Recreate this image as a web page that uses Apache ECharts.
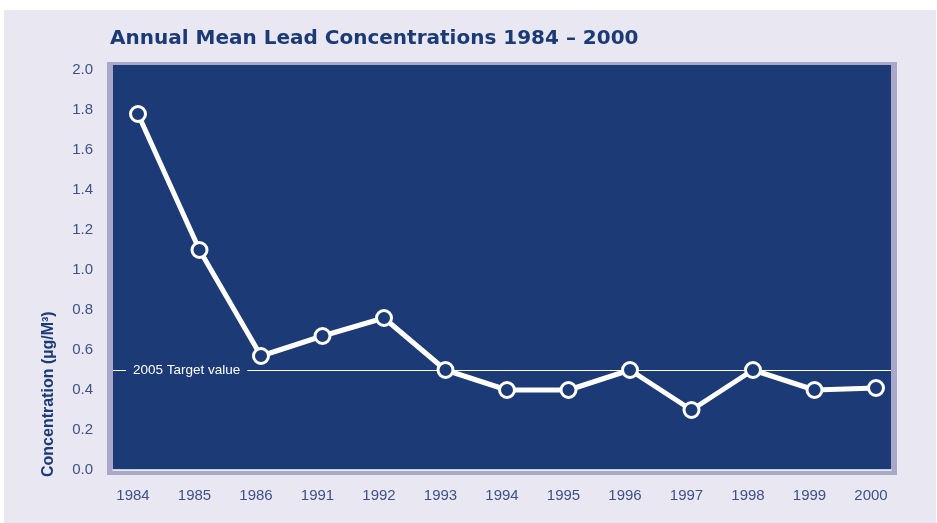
<!DOCTYPE html>
<html>
<head>
<meta charset="utf-8">
<script src="https://cdn.jsdelivr.net/npm/echarts@6/dist/echarts.min.js"></script>
<style>
html,body{margin:0;padding:0;background:#ffffff;}
#c{width:937px;height:523px;}
</style>
</head>
<body>
<div id="c"></div>
<script>
var categories = ['1984','1985','1986','1991','1992','1993','1994','1995','1996','1997','1998','1999','2000'];
var concentration = [1.78, 1.10, 0.57, 0.67, 0.76, 0.50, 0.40, 0.40, 0.50, 0.30, 0.50, 0.40, 0.41];
var yTicks = [0, 0.2, 0.4, 0.6, 0.8, 1.0, 1.2, 1.4, 1.6, 1.8, 2.0];
var targetValue = 0.5;
var targetLabel = '2005 Target value';
var titleText = 'Annual Mean Lead Concentrations 1984 \u2013 2000';
var yTitle = 'Concentration (\u00b5g/M\u00b3)';

var DARK = '#1b3a76';
var LABEL = '#3f5089';
var FONT = '"Liberation Sans", Arial, Helvetica, sans-serif';

var chart = echarts.init(document.getElementById('c'), null, {renderer: 'canvas'});
chart.setOption({
  backgroundColor: '#ffffff',
  animation: false,
  title: {
    text: titleText,
    left: 105, top: 24,
    textStyle: {color: DARK, fontSize: 20, fontWeight: 'bold', fontFamily: '"DejaVu Sans", sans-serif'}
  },
  graphic: [
    {type: 'rect', z: -10, silent: true, shape: {x: 4, y: 10, width: 932, height: 513}, style: {fill: '#e9e8f2'}},
    {type: 'rect', z: -9, silent: true, shape: {x: 107, y: 62, width: 790, height: 413}, style: {fill: '#a9a8c8'}},
    {type: 'rect', z: -8, silent: true, shape: {x: 113, y: 65, width: 778, height: 405}, style: {fill: DARK}},
    {type: 'text', z: 10, silent: true, x: 49, y: 477, rotation: Math.PI / 2,
      style: {text: yTitle, fill: DARK, font: 'bold 16px ' + FONT, textAlign: 'left', textVerticalAlign: 'middle'}}
  ],
  grid: [
    {left: 138, top: 70, width: 738, height: 400, show: false},
    {left: 113, top: 70, width: 778, height: 400, show: false}
  ],
  xAxis: [
    {
      type: 'category', gridIndex: 0, data: categories, boundaryGap: false,
      axisLine: {show: false}, axisTick: {show: false}, splitLine: {show: false},
      axisLabel: {color: LABEL, fontSize: 15, fontFamily: FONT, margin: 18, interval: 0, padding: [0, 10, 0, 0]}
    },
    {
      type: 'value', gridIndex: 1, min: 0, max: 1,
      axisLine: {show: true, lineStyle: {color: '#ffffff', width: 1.5}},
      axisTick: {show: false}, axisLabel: {show: false}, splitLine: {show: false}
    }
  ],
  yAxis: [
    {type: 'value', gridIndex: 0, min: 0, max: 2, interval: 0.2, show: false},
    {
      type: 'value', gridIndex: 1, min: yTicks[0], max: yTicks[yTicks.length - 1], interval: 0.2,
      axisLine: {show: false}, axisTick: {show: false}, splitLine: {show: false},
      axisLabel: {color: LABEL, fontSize: 15, fontFamily: FONT, margin: 20,
        formatter: function (v) { return v.toFixed(1); }}
    }
  ],
  series: [
    {
      type: 'line', xAxisIndex: 1, yAxisIndex: 1, data: [], silent: true,
      markLine: {
        silent: true, symbol: 'none',
        lineStyle: {color: '#ffffff', width: 1, type: 'solid'},
        label: {
          show: true, position: 'insideStart', distance: [13, 0],
          formatter: targetLabel, color: '#ffffff', fontSize: 13.5, fontFamily: FONT,
          backgroundColor: DARK, padding: [2, 7, 2, 7]
        },
        data: [{yAxis: targetValue}]
      }
    },
    {
      type: 'line', xAxisIndex: 0, yAxisIndex: 0, data: concentration, z: 5,
      symbol: 'circle', symbolSize: 15,
      lineStyle: {color: '#ffffff', width: 5},
      itemStyle: {color: DARK, borderColor: '#ffffff', borderWidth: 3}
    }
  ]
});
</script>
</body>
</html>
